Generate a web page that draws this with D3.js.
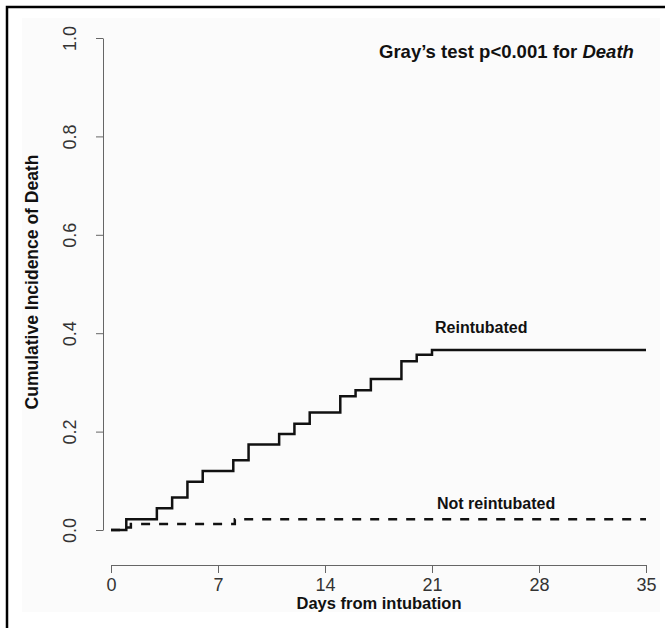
<!DOCTYPE html>
<html>
<head>
<meta charset="utf-8">
<script src="https://cdn.jsdelivr.net/npm/d3@7"></script>
<style>
  body { margin: 0; background: #fff; }
  svg { display: block; }
</style>
</head>
<body>
<svg width="665" height="628"></svg>
<script>
// data
var xTicks = [0, 7, 14, 21, 28, 35]
var yTicks = [0, 0.2, 0.4, 0.6, 0.8, 1.0]

var reintDays = [0, 1, 3, 4, 5, 6, 8, 9, 11, 12, 13, 15, 16, 17, 19, 20, 21, 35]
var reintCif = [0, 0.022, 0.044, 0.066, 0.098, 0.12, 0.142, 0.174, 0.195, 0.216, 0.239, 0.272, 0.284, 0.307, 0.343, 0.356, 0.366, 0.366]

var notDays = [0, 1, 1.3, 8.1, 35]
var notCif = [0, 0.005, 0.012, 0.022, 0.022]

var svg = d3.select("svg"),
    width = +svg.attr("width"),
    height = +svg.attr("height");

var tickFont = "'Liberation Sans Narrow', 'Liberation Sans', Arial, sans-serif"
var boldFont = "'Liberation Sans', Arial, Helvetica, sans-serif"

var x = d3.scaleLinear().domain([0, 35]).range([111, 646])
var y = d3.scaleLinear().domain([0, 1]).range([530, 38])

// faint panel + frame
svg.append("rect")
    .attr("x", 22).attr("y", 18)
    .attr("width", 638).attr("height", 594)
    .attr("fill", "#fbfbfb")
svg.append("path")
    .attr("d", "M7,628 V7 H665")
    .attr("fill", "none")
    .attr("stroke", "#000")
    .attr("stroke-width", 2.5)

// x axis
var xAxis = svg.append("g")
    .attr("transform", "translate(0,565)")
    .call(d3.axisBottom(x).tickValues(xTicks).tickSize(8).tickSizeOuter(0).tickPadding(5))
xAxis.select(".domain").attr("stroke", "#666")
xAxis.selectAll(".tick line").attr("stroke", "#666")
xAxis.selectAll("text")
    .attr("fill", "#333")
    .style("font-family", tickFont)
    .style("font-size", "18px")

// y axis
var yAxis = svg.append("g")
    .attr("transform", "translate(103,0)")
    .call(d3.axisLeft(y).tickValues(yTicks).tickSize(7).tickSizeOuter(0).tickFormat(d3.format(".1f")))
yAxis.select(".domain").attr("stroke", "#666")
yAxis.selectAll(".tick line").attr("stroke", "#666")
yAxis.selectAll("text")
    .attr("fill", "#333")
    .attr("x", 0).attr("dy", 0)
    .attr("text-anchor", "middle")
    .attr("transform", "translate(-27,0) rotate(-90)")
    .style("font-family", tickFont)
    .style("font-size", "18px")

// axis titles
svg.append("text")
    .attr("x", 379).attr("y", 609)
    .attr("text-anchor", "middle")
    .style("font-family", boldFont)
    .style("font-weight", "bold")
    .style("font-size", "16.5px")
    .attr("fill", "#111")
    .text("Days from intubation")

svg.append("text")
    .attr("transform", "translate(38,282) rotate(-90)")
    .attr("text-anchor", "middle")
    .style("font-family", boldFont)
    .style("font-weight", "bold")
    .style("font-size", "17.5px")
    .attr("fill", "#111")
    .text("Cumulative Incidence of Death")

// step curves
var step = d3.line()
    .x(function (d) { return x(d[0]) })
    .y(function (d) { return y(d[1]) })
    .curve(d3.curveStepAfter)

svg.append("path")
    .datum(d3.zip(notDays, notCif))
    .attr("d", step)
    .attr("fill", "none")
    .attr("stroke", "#111")
    .attr("stroke-width", 2.5)
    .attr("stroke-dasharray", "9,9")

svg.append("path")
    .datum(d3.zip(reintDays, reintCif))
    .attr("d", step)
    .attr("fill", "none")
    .attr("stroke", "#111")
    .attr("stroke-width", 2.5)

// labels
var label = function (tx, ty, s, size) {
    return svg.append("text")
        .attr("x", tx).attr("y", ty)
        .style("font-family", boldFont)
        .style("font-weight", "bold")
        .style("font-size", size)
        .attr("fill", "#111")
        .text(s)
}
label(435, 333, "Reintubated", "16px")
label(437, 509, "Not reintubated", "16px")

var title = label(379, 58, "Gray\u2019s test p<0.001 for ", "18.5px")
title.append("tspan").style("font-style", "italic").text("Death")
</script>
</body>
</html>
